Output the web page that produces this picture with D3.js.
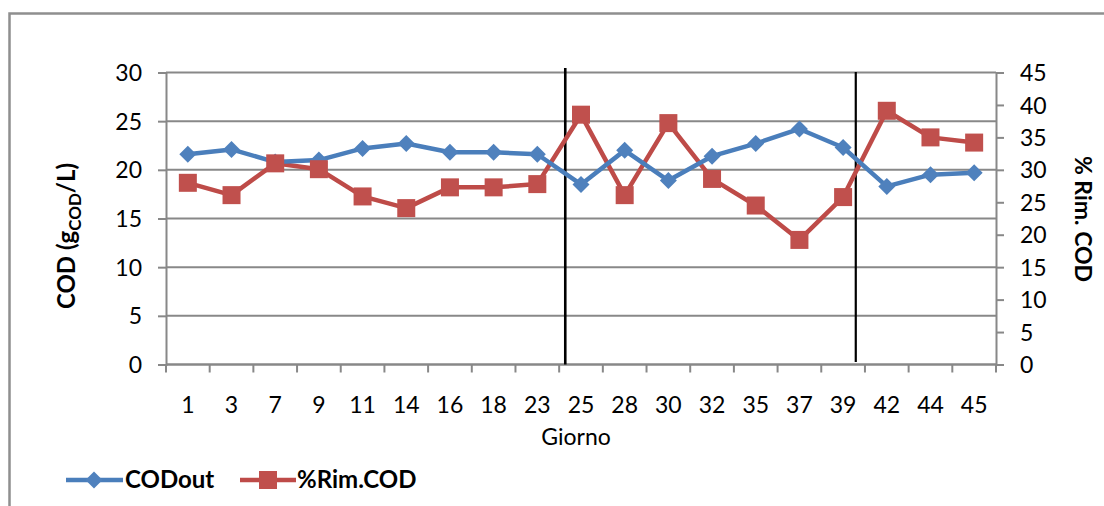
<!DOCTYPE html>
<html>
<head>
<meta charset="utf-8">
<script src="https://cdn.jsdelivr.net/npm/d3@7"></script>
<style>
  html, body { margin: 0; padding: 0; background: #fff; }
  svg { display: block; }
  text { font-family: Lato, "Open Sans", sans-serif; fill: #000; }
</style>
</head>
<body>
<svg id="chart" width="1104" height="506"></svg>
<script>
// Sampling days (category axis)
const days = ["1","3","7","9","11","14","16","18","23","25","28","30","32","35","37","39","42","44","45"];
// Effluent COD, g/L (left axis)
const codOut = [21.6, 22.1, 20.8, 21.0, 22.2, 22.7, 21.8, 21.8, 21.6, 18.5, 22.0, 18.9, 21.4, 22.7, 24.2, 22.3, 18.3, 19.5, 19.7];
// COD removal, % (right axis)
const rimCod = [28.0, 26.1, 31.0, 30.1, 25.9, 24.1, 27.3, 27.3, 27.8, 38.5, 26.1, 37.2, 28.6, 24.5, 19.2, 25.8, 39.1, 35.0, 34.2];
// Tick values for both value axes
const leftTicks = [0, 5, 10, 15, 20, 25, 30];
const rightTicks = [0, 5, 10, 15, 20, 25, 30, 35, 40, 45];
// Phase separators: position given as the category plus a fraction of a band
const phaseBreaks = [{at: "25", frac: 0.14}, {at: "39", frac: 0.79}];

const svg = d3.select("#chart");
const gridColor = "#888888";
const blue = "#4A7EBB", blueMark = "#4F81BD";
const red = "#BE4B48", redMark = "#C0504D";
const fs = 23;

// Outer frame
svg.append("path")
  .attr("d", "M9.5,520 L9.5,13.5 L1110,13.5")
  .attr("fill", "none").attr("stroke", "#8f8f8f").attr("stroke-width", 2.5);

const pLeft = 166, pRight = 996, pTop = 72.5, pBottom = 364.5;

const x = d3.scaleBand().domain(days).range([pLeft, pRight]).padding(0);
const yL = d3.scaleLinear().domain([0, 30]).range([pBottom, pTop]);
const yR = d3.scaleLinear().domain([0, 45]).range([pBottom, pTop]);

// Horizontal gridlines
svg.append("g").selectAll("line").data(leftTicks).join("line")
  .attr("x1", pLeft).attr("x2", pRight)
  .attr("y1", d => yL(d)).attr("y2", d => yL(d))
  .attr("stroke", gridColor).attr("stroke-width", 2);

// Left axis
const axL = svg.append("g").attr("transform", `translate(${pLeft},0)`)
  .call(d3.axisLeft(yL).tickValues(leftTicks).tickSize(8).tickPadding(16));
axL.select(".domain").attr("stroke", gridColor).attr("stroke-width", 2);
axL.selectAll(".tick line").attr("stroke", gridColor).attr("stroke-width", 2);
axL.selectAll("text").attr("font-size", fs).attr("font-family", "Lato").attr("dy", "0.35em");

// Right axis
const axR = svg.append("g").attr("transform", `translate(${pRight},0)`)
  .call(d3.axisRight(yR).tickValues(rightTicks).tickSize(8).tickPadding(16));
axR.select(".domain").attr("stroke", gridColor).attr("stroke-width", 2);
axR.selectAll(".tick line").attr("stroke", gridColor).attr("stroke-width", 2);
axR.selectAll("text").attr("font-size", fs).attr("font-family", "Lato").attr("dy", "0.35em");

// Bottom axis: ticks on category boundaries, labels in band centres
const bx = svg.append("g").attr("transform", `translate(0,${pBottom})`);
bx.append("line").attr("x1", pLeft).attr("x2", pRight)
  .attr("stroke", gridColor).attr("stroke-width", 2);
const boundaries = days.map(d => x(d)).concat([pRight]);
bx.selectAll("line.tk").data(boundaries).join("line").attr("class", "tk")
  .attr("x1", d => d).attr("x2", d => d).attr("y1", 0).attr("y2", 8)
  .attr("stroke", gridColor).attr("stroke-width", 2);
bx.selectAll("text").data(days).join("text")
  .attr("x", d => x(d) + x.bandwidth() / 2).attr("y", 48)
  .attr("text-anchor", "middle").attr("font-size", fs).text(d => d);

// Axis titles
svg.append("text").attr("x", 576).attr("y", 445).attr("text-anchor", "middle")
  .attr("font-size", fs).text("Giorno");

const tL = svg.append("text")
  .attr("transform", `translate(75,236) rotate(-90)`)
  .attr("text-anchor", "middle").attr("font-size", 24).attr("font-weight", "bold");
tL.append("tspan").text("COD (g");
tL.append("tspan").attr("font-size", 17).attr("dy", 6).text("COD");
tL.append("tspan").attr("dy", -6).text("/L)");

svg.append("text")
  .attr("transform", `translate(1075,219) rotate(90)`)
  .attr("text-anchor", "middle").attr("font-size", fs).attr("font-weight", "bold")
  .text("% Rim. COD");

// Phase separator lines
const sepX = d => x(d.at) + x.bandwidth() * d.frac;
svg.append("g").selectAll("line").data(phaseBreaks).join("line")
  .attr("x1", sepX).attr("x2", sepX)
  .attr("y1", (d, i) => i === 0 ? 68 : 72).attr("y2", (d, i) => i === 0 ? pBottom : 362)
  .attr("stroke", "#000").attr("stroke-width", (d, i) => i === 0 ? 2.6 : 2.2);

const cx = d => x(d) + x.bandwidth() / 2;

// COD removal series
const rimData = days.map((d, i) => ({d, v: rimCod[i]}));
svg.append("path").datum(rimData)
  .attr("d", d3.line().x(p => cx(p.d)).y(p => yR(p.v)))
  .attr("fill", "none").attr("stroke", red).attr("stroke-width", 4.5)
  .attr("stroke-linejoin", "round");

// Effluent COD series
const codData = days.map((d, i) => ({d, v: codOut[i]}));
svg.append("path").datum(codData)
  .attr("d", d3.line().x(p => cx(p.d)).y(p => yL(p.v)))
  .attr("fill", "none").attr("stroke", blue).attr("stroke-width", 4.5)
  .attr("stroke-linejoin", "round");

const diamond = s => `M0,${-s}L${s},0L0,${s}L${-s},0Z`;
svg.append("g").selectAll("path").data(codData).join("path")
  .attr("transform", p => `translate(${cx(p.d)},${yL(p.v)})`)
  .attr("d", diamond(8.5)).attr("fill", blueMark);

svg.append("g").selectAll("rect").data(rimData).join("rect")
  .attr("x", p => cx(p.d) - 9).attr("y", p => yR(p.v) - 9)
  .attr("width", 18).attr("height", 18).attr("fill", redMark);

// Legend
const lg = svg.append("g").attr("transform", "translate(0,480)");
lg.append("line").attr("x1", 66).attr("x2", 123).attr("stroke", blue).attr("stroke-width", 4.5);
lg.append("path").attr("transform", "translate(94,0)").attr("d", diamond(8.5)).attr("fill", blueMark);
lg.append("text").attr("x", 125).attr("y", 0).attr("dy", "0.35em")
  .attr("font-size", fs + 1).attr("font-weight", "bold").text("CODout");
lg.append("line").attr("x1", 240).attr("x2", 296).attr("stroke", red).attr("stroke-width", 4.5);
lg.append("rect").attr("x", 259).attr("y", -9).attr("width", 18).attr("height", 18).attr("fill", redMark);
lg.append("text").attr("x", 297).attr("y", 0).attr("dy", "0.35em")
  .attr("font-size", fs + 1).attr("font-weight", "bold").text("%Rim.COD");
</script>
</body>
</html>
